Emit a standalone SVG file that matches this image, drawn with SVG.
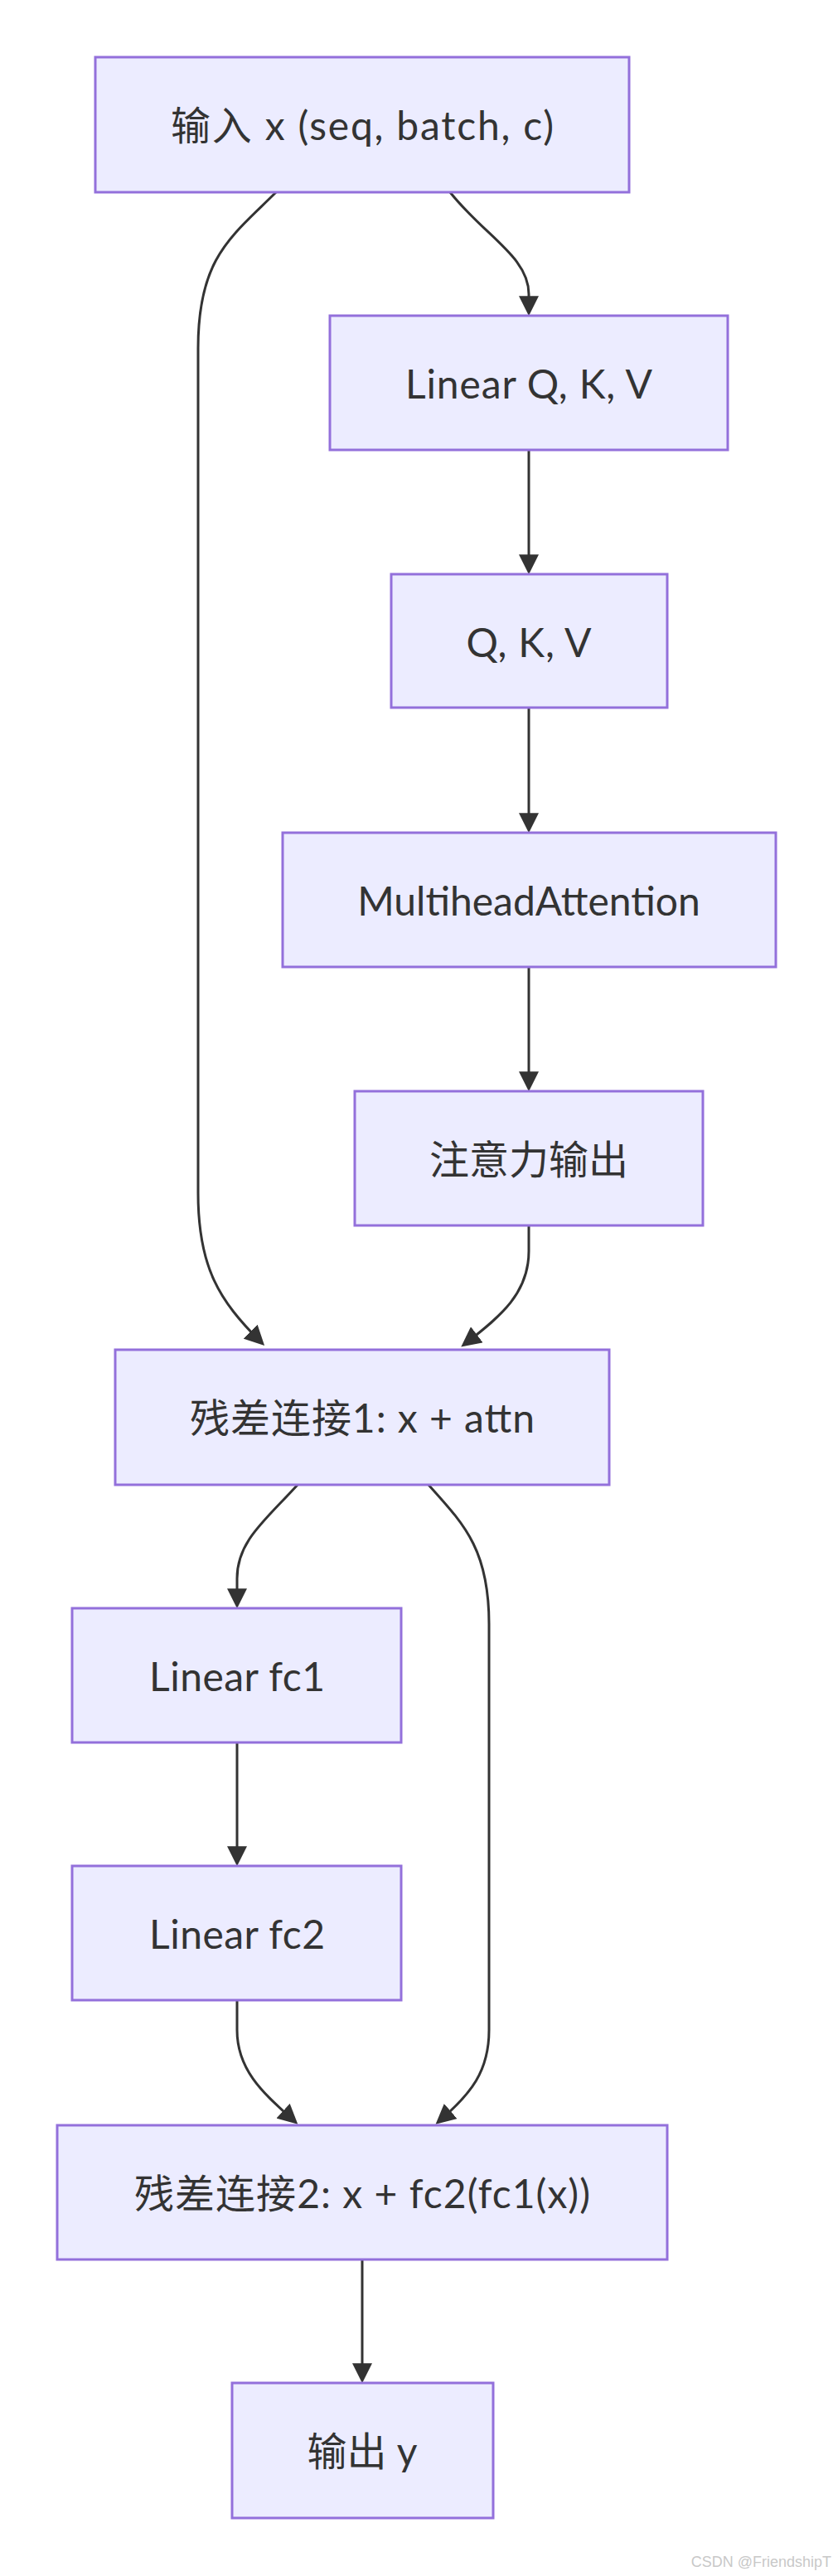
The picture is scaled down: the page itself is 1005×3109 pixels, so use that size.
<svg xmlns="http://www.w3.org/2000/svg" width="1005" height="3109" viewBox="0 0 1005 3109">
<style>
.node rect{fill:#ECECFF;stroke:#9370DB;stroke-width:3}
.node text{font-family:Lato,"Noto Sans CJK SC",sans-serif;font-size:48px;fill:#333333;text-anchor:middle;dominant-baseline:central}
.edges path{fill:none;stroke:#333333;stroke-width:3;marker-end:url(#arrow)}
.wm{font-family:"Liberation Sans",sans-serif;font-size:18px;fill:#c8c8c8;text-anchor:end}
</style>
<defs>
<marker id="arrow" viewBox="0 0 10 10" refX="7" refY="5" markerWidth="24" markerHeight="24" markerUnits="userSpaceOnUse" orient="auto">
<path d="M0,0 L10,5 L0,10 z" fill="#333333"/>
</marker>
</defs>
<rect width="1005" height="3109" fill="#ffffff"/>
<g class="edges">
<path d="M543,232 C585,285 638,310 638,355 L638,374"/>
<path d="M333,232 C280,285 239,310 239,420 L239,1440 C239,1530 265,1570 314,1619"/>
<path d="M638,543 L638,686"/>
<path d="M638,854 L638,998"/>
<path d="M638,1167 L638,1310"/>
<path d="M638,1479 L638,1510 C638,1560 605,1588 562,1621"/>
<path d="M359,1792 C320,1835 286,1860 286,1905 L286,1934"/>
<path d="M517,1792 C560,1840 590,1870 590,1960 L590,2450 C590,2500 568,2527 531,2559"/>
<path d="M286,2103 L286,2245"/>
<path d="M286,2414 L286,2450 C286,2500 320,2528 354,2559"/>
<path d="M437,2727 L437,2869"/>
</g>
<g id="n1" class="node"><rect x="115" y="69" width="644" height="163"/><text x="437" y="150" textLength="462" lengthAdjust="spacing">输入 x (seq, batch, c)</text></g>
<g id="n2" class="node"><rect x="398" y="381" width="480" height="162"/><text x="638" y="462" textLength="298" lengthAdjust="spacing">Linear Q, K, V</text></g>
<g id="n3" class="node"><rect x="472" y="693" width="333" height="161"/><text x="638" y="774" textLength="151" lengthAdjust="spacing">Q, K, V</text></g>
<g id="n4" class="node"><rect x="341" y="1005" width="595" height="162"/><text x="638" y="1086">MultiheadAttention</text></g>
<g id="n5" class="node"><rect x="428" y="1317" width="420" height="162"/><text x="638" y="1398">注意力输出</text></g>
<g id="n6" class="node"><rect x="139" y="1629" width="596" height="163"/><text x="437" y="1710" textLength="416" lengthAdjust="spacing">残差连接1: x + attn</text></g>
<g id="n7" class="node"><rect x="87" y="1941" width="397" height="162"/><text x="286" y="2022" textLength="212" lengthAdjust="spacing">Linear fc1</text></g>
<g id="n8" class="node"><rect x="87" y="2252" width="397" height="162"/><text x="286" y="2333" textLength="212" lengthAdjust="spacing">Linear fc2</text></g>
<g id="n9" class="node"><rect x="69" y="2565" width="736" height="162"/><text x="437" y="2646" textLength="550" lengthAdjust="spacing">残差连接2: x + fc2(fc1(x))</text></g>
<g id="n10" class="node"><rect x="280" y="2876" width="315" height="163"/><text x="437" y="2957">输出 y</text></g>
<text class="wm" x="1003" y="3098">CSDN @FriendshipT</text>
</svg>
